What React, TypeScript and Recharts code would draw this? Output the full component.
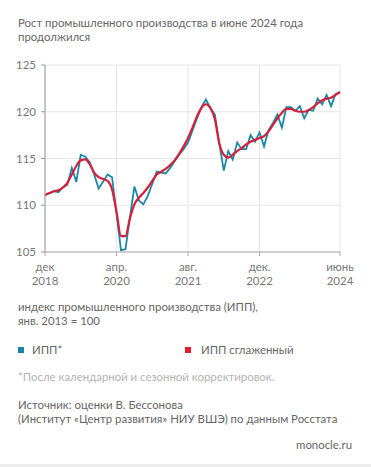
import { LineChart, Line, XAxis, YAxis, CartesianGrid } from "recharts";

// месяцы с дек. 2018 (0) по июнь 2024 (66)
const tickIdx = [0, 16, 32, 48, 66];
const tickMonth = ["дек", "апр.", "авг.", "дек.", "июнь"];
const tickYear = ["2018", "2020", "2021", "2022", "2024"];
const yTicks = [105, 110, 115, 120, 125];

// ИПП* (после календарной и сезонной корректировок)
const ipp = [
  111.1, 111.3, 111.5, 111.4, 111.9, 112.2, 114.0, 112.5, 115.4, 115.2,
  114.6, 113.3, 111.8, 112.5, 113.3, 113.0, 109.1, 105.2, 105.3, 108.7,
  112.0, 110.5, 110.1, 111.0, 112.3, 113.6, 113.5, 113.4, 114.0, 114.7,
  115.4, 116.0, 116.7, 118.0, 119.3, 120.5, 121.3, 120.4, 119.7, 116.6,
  113.7, 115.8, 114.9, 116.7, 116.0, 116.0, 117.5, 116.8, 117.8, 116.3,
  118.0, 118.8, 119.7, 118.3, 120.5, 120.5, 120.1, 120.6, 119.3, 120.2,
  120.1, 121.4, 120.8, 121.8, 120.6, 121.9, 122.1,
];

// ИПП сглаженный
const ippSmooth = [
  111.1, 111.3, 111.5, 111.6, 111.9, 112.4, 113.3, 114.2, 114.8, 114.9,
  114.4, 113.5, 113.0, 112.8, 112.6, 111.7, 109.3, 106.7, 106.7, 108.6,
  110.1, 110.8, 111.3, 111.9, 112.6, 113.3, 113.6, 113.9, 114.3, 114.8,
  115.5, 116.3, 117.2, 118.3, 119.5, 120.4, 120.8, 120.4, 119.2, 116.6,
  115.4, 115.1, 115.4, 115.8, 116.1, 116.5, 116.8, 117.0, 117.2, 117.4,
  117.9, 118.6, 119.3, 119.9, 120.3, 120.3, 120.1, 120.0, 120.0, 120.2,
  120.5, 120.9, 121.2, 121.4, 121.5, 121.8, 122.1,
];

const data = ipp.map((v, i) => ({ i, ipp: v, smooth: ippSmooth[i] }));

const FONT = "Lato, 'Noto Sans', sans-serif";
const BLUE = "#1a86a8";
const RED = "#d81f3a";
const TEXT = "#666";

// eslint-disable-next-line @typescript-eslint/no-explicit-any
function XTick({ x, y, payload }: any) {
  const k = tickIdx.indexOf(payload.value);
  return (
    <g transform={`translate(${x},${y})`}>
      <text textAnchor="middle" y={13} fontSize={11.5} fill="#777" fontFamily={FONT}>
        {tickMonth[k]}
      </text>
      <text textAnchor="middle" y={27} fontSize={11.5} fill="#777" fontFamily={FONT}>
        {tickYear[k]}
      </text>
    </g>
  );
}

function Txt({ top, children, color = TEXT, left = 18, right }: { top: number; children: React.ReactNode; color?: string; left?: number; right?: boolean }) {
  return (
    <div
      style={{
        position: "absolute",
        top,
        left: right ? undefined : left,
        right: right ? 19 : undefined,
        fontSize: 11.4,
        lineHeight: "14px",
        color,
        whiteSpace: "nowrap",
      }}
    >
      {children}
    </div>
  );
}

export default function App() {
  return (
    <div
      style={{
        position: "absolute",
        left: 0,
        top: 0,
        width: 371,
        height: 467,
        background: "#fff",
        fontFamily: FONT,
        overflow: "hidden",
      }}
    >
      <Txt top={16}>Рост промышленного производства в июне 2024 года</Txt>
      <Txt top={30}>продолжился</Txt>

      <div style={{ position: "absolute", left: 0, top: 0 }}>
        <LineChart width={371} height={300} data={data} margin={{ top: 65, right: 31, bottom: 8, left: 0 }}>
          <CartesianGrid stroke="#e6e6e6" strokeWidth={1} />
          <XAxis
            type="number"
            dataKey="i"
            domain={[0, 66]}
            ticks={tickIdx}
            tick={<XTick />}
            tickSize={4}
            height={40}
            stroke="#aaa"
            interval={0}
          />
          <YAxis
            domain={[105, 125]}
            ticks={yTicks}
            width={45}
            tickSize={4}
            tickMargin={5}
            stroke="#999"
            tick={{ fontSize: 11.5, fill: "#777", fontFamily: FONT }}
            interval={0}
          />
          <Line
            type="linear"
            dataKey="ipp"
            stroke={BLUE}
            strokeWidth={1.8}
            dot={false}
            isAnimationActive={false}
          />
          <Line
            type="monotone"
            dataKey="smooth"
            stroke={RED}
            strokeWidth={2.2}
            dot={false}
            isAnimationActive={false}
          />
        </LineChart>
      </div>

      <Txt top={300}>индекс промышленного производства (ИПП),</Txt>
      <Txt top={314}>янв. 2013 = 100</Txt>

      <div style={{ position: "absolute", top: 347, left: 18, width: 6, height: 6, background: "#1b7fb0" }} />
      <Txt top={343} left={32}>ИПП*</Txt>
      <div style={{ position: "absolute", top: 347, left: 185, width: 6, height: 6, background: "#e3202e" }} />
      <Txt top={343} left={201}>ИПП сглаженный</Txt>

      <Txt top={370} color="#b3b3b3">*После календарной и сезонной корректировок.</Txt>
      <Txt top={398}>Источник: оценки В. Бессонова</Txt>
      <Txt top={412}>(Институт «Центр развития» НИУ ВШЭ) по данным Росстата</Txt>
      <Txt top={438} right>monocle.ru</Txt>

      <div style={{ position: "absolute", left: 0, top: 464, width: 371, height: 3, background: "#ececec" }} />
    </div>
  );
}
